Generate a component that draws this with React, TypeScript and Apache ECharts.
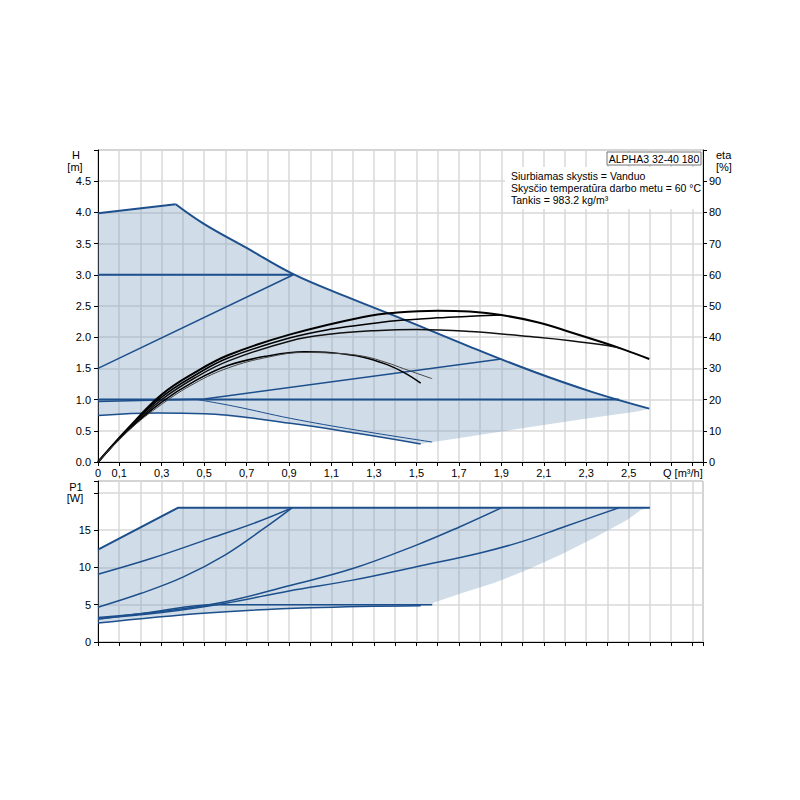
import { useEffect, useRef } from 'react';
import * as echarts from 'echarts';

type Pt = [number, number];

// Q [m3/h], H [m] - pump curves (top chart)
const maxCurve: Pt[] = [
  [0, 3.985], [0.366, 4.13], [0.497, 3.82], [0.7, 3.43], [0.92, 3.01], [1.17, 2.65],
  [1.45, 2.27], [1.75, 1.85], [2.05, 1.45], [2.33, 1.12], [2.597, 0.855],
];
const constHigh: Pt[] = [[0, 3.0], [0.92, 3.0]];
const propHigh: Pt[] = [[0, 1.5], [0.92, 3.0]];
const propLow: Pt[] = [[0, 0.97], [0.5, 1.01], [1.9, 1.65]];
const constLow: Pt[] = [[0, 1.0], [2.455, 1.0]];
const minCurve: Pt[] = [[0, 0.745], [0.28, 0.785], [0.5, 0.775], [0.906, 0.62], [1.22, 0.46], [1.52, 0.29]];
const minCurve2: Pt[] = [[0.47, 1.0], [0.646, 0.89], [0.906, 0.7], [1.22, 0.51], [1.574, 0.32]];
const headShadeLower: Pt[] = [
  [2.597, 0.855], [2.54, 0.81], [2.27, 0.68], [1.96, 0.52], [1.58, 0.32],
  [1.52, 0.29], [1.22, 0.46], [0.906, 0.62], [0.5, 0.775], [0.28, 0.785], [0, 0.745],
];

// Q [m3/h], eta [%]
const etaA: Pt[] = [
  [0, 0], [0.143, 10.9], [0.3, 21.6], [0.457, 28.7], [0.615, 34.3], [0.906, 40.9], [1.25, 46.5],
  [1.41, 47.9], [1.6, 48.5], [1.75, 48.2], [1.9, 47.1], [2.07, 44.8], [2.226, 41.6],
  [2.383, 38.2], [2.478, 36.0], [2.597, 33.0],
];
const etaB: Pt[] = [
  [0, 0], [0.143, 10.7], [0.3, 20.8], [0.457, 27.8], [0.615, 33.4], [0.906, 39.8], [1.1, 42.6],
  [1.302, 44.5], [1.44, 45.5], [1.597, 46.2], [1.755, 46.7], [1.9, 47.1],
];
const etaC: Pt[] = [
  [0, 0], [0.143, 10.5], [0.3, 20.0], [0.457, 27.0], [0.615, 32.4], [0.906, 38.8], [1.1, 41.0],
  [1.302, 42.1], [1.5, 42.5], [1.755, 41.8], [2.07, 40.0], [2.226, 38.9], [2.383, 37.5], [2.46, 36.5],
];
const etaD: Pt[] = [
  [0, 0], [0.143, 10.2], [0.3, 19.2], [0.457, 26.0], [0.615, 31.0], [0.8, 34.0], [0.97, 35.3],
  [1.1, 35.0], [1.25, 33.6], [1.362, 31.2], [1.44, 28.7], [1.52, 25.3],
];
const etaE: Pt[] = [
  [0, 0], [0.143, 10.0], [0.3, 18.5], [0.457, 25.3], [0.615, 30.2], [0.8, 33.6], [0.97, 35.1],
  [1.1, 34.9], [1.25, 33.9], [1.362, 31.8], [1.44, 29.9], [1.574, 26.7],
];

// Q [m3/h], P1 [W]
const powerMax: Pt[] = [[0, 12.4], [0.376, 18], [2.6, 18]];
const powerA: Pt[] = [[0, 9.1], [0.25, 11.2], [0.528, 13.9], [0.75, 16.1], [0.914, 18]];
const powerB: Pt[] = [[0, 4.67], [0.2, 6.5], [0.4, 8.7], [0.6, 11.7], [0.78, 15.2], [0.914, 18]];
const powerC: Pt[] = [
  [0, 3.3], [0.3, 4.1], [0.6, 5.4], [0.9, 7.55], [1.2, 9.85], [1.5, 13.0], [1.7, 15.4], [1.9, 18],
];
const powerD: Pt[] = [
  [0, 3.15], [0.3, 3.95], [0.6, 5.2], [0.9, 6.85], [1.2, 8.3], [1.5, 10.1], [1.8, 11.95],
  [2.0, 13.5], [2.2, 15.5], [2.454, 18],
];
const powerFlat: Pt[] = [[0, 3.05], [0.25, 4.0], [0.55, 5.0], [1.574, 5.0]];
const powerMin: Pt[] = [[0, 2.55], [0.513, 3.9], [1.0, 4.6], [1.52, 4.88]];
const powerShadeRight: Pt[] = [
  [2.6, 18], [2.557, 17.7], [2.494, 16.4], [2.336, 13.95], [2.179, 11.7], [2.022, 9.7],
  [1.865, 7.9], [1.708, 6.5], [1.58, 5.25], [1.574, 5.0],
];

const infoLines = [
  'Siurbiamas skystis = Vanduo',
  'Skysčio temperatūra darbo metu = 60 °C',
  'Tankis = 983.2 kg/m³',
];

const BLUE = '#1c4f8c';
const SHADE = 'rgba(120,155,190,0.35)';
const GRID = '#d8d8d8';
const FONT = 'Arial, "Liberation Sans", sans-serif';

const headShade: Pt[] = [...maxCurve, ...headShadeLower];
const powerShade: Pt[] = [...powerMax.slice(0, 2), ...powerShadeRight, ...[...powerMin].reverse()];

function shadeSeries(points: Pt[], axis: number, yAxis: number) {
  return {
    type: 'custom',
    xAxisIndex: axis,
    yAxisIndex: yAxis,
    silent: true,
    z: 1,
    data: [[0, 0]],
    renderItem: (_p: any, api: any) => ({
      type: 'polygon',
      shape: { points: points.map((p) => api.coord(p)) },
      style: { fill: SHADE, stroke: 'none' },
    }),
  };
}

function line(data: Pt[], xi: number, yi: number, color: string, width: number, smooth: number | boolean = false) {
  return {
    type: 'line',
    xAxisIndex: xi,
    yAxisIndex: yi,
    data,
    smooth,
    showSymbol: false,
    silent: true,
    z: color === BLUE ? 3 : 4,
    lineStyle: { color, width },
  };
}

const axisText = { color: '#000', fontSize: 11, fontFamily: FONT };

function qLabel(v: number) {
  const k = Math.round(v * 10);
  if (Math.abs(v * 10 - k) > 1e-6) return '';
  if (k === 0) return '0';
  if (k % 2 === 1 && k <= 25) return (k / 10).toFixed(1).replace('.', ',');
  return '';
}

function xAxis(gridIndex: number, labels: boolean) {
  return {
    type: 'value',
    gridIndex,
    min: 0,
    max: 2.85,
    interval: 0.1,
    axisLine: { show: true, lineStyle: { color: '#000', width: 1 } },
    axisTick: { show: true, length: 4, lineStyle: { color: '#000' } },
    axisLabel: { show: labels, ...axisText, margin: 5, formatter: qLabel },
    splitLine: { show: true, lineStyle: { color: GRID, width: 1.5 } },
  };
}

export default function App() {
  const chartRef = useRef<HTMLDivElement>(null);

  useEffect(() => {
    document.body.style.margin = '0';
    if (!chartRef.current) return;
    const chart = echarts.init(chartRef.current, undefined, { renderer: 'svg' });

    const text = (x: number, y: number, t: string, align = 'center', size = 11) => ({
      type: 'text',
      x,
      y,
      z: 101,
      style: { text: t, fill: '#000', fontSize: size, fontFamily: FONT, align, verticalAlign: 'middle' },
    });

    chart.setOption({
      animation: false,
      backgroundColor: '#fff',
      grid: [
        { left: 98, right: 97, top: 150, height: 312, show: true, borderColor: '#999', borderWidth: 1 },
        { left: 98, right: 97, top: 481, height: 161, show: true, borderColor: '#999', borderWidth: 1 },
      ],
      xAxis: [xAxis(0, true), xAxis(1, false)],
      yAxis: [
        {
          type: 'value',
          gridIndex: 0,
          min: 0,
          max: 5,
          interval: 0.5,
          axisLine: { show: true, lineStyle: { color: '#000' } },
          axisTick: { show: true, length: 4, lineStyle: { color: '#000' } },
          axisLabel: { ...axisText, margin: 7, formatter: (v: number) => (v >= 4.99 ? '' : v.toFixed(1)) },
          splitLine: { show: true, lineStyle: { color: GRID, width: 1.5 } },
        },
        {
          type: 'value',
          gridIndex: 0,
          position: 'right',
          min: 0,
          max: 100,
          interval: 10,
          axisLine: { show: true, lineStyle: { color: '#000' } },
          axisTick: { show: true, length: 4, lineStyle: { color: '#000' } },
          axisLabel: { ...axisText, margin: 6, formatter: (v: number) => (v >= 99 ? '' : String(v)) },
          splitLine: { show: false },
        },
        {
          type: 'value',
          gridIndex: 1,
          min: 0,
          max: 21.6,
          interval: 5,
          axisLine: { show: true, lineStyle: { color: '#000' } },
          axisTick: { show: true, length: 4, lineStyle: { color: '#000' } },
          axisLabel: { ...axisText, margin: 7, formatter: (v: number) => (v <= 15 ? String(v) : '') },
          splitLine: { show: true, lineStyle: { color: GRID, width: 1.5 } },
        },
      ],
      graphic: [
        text(76, 155, 'H'),
        text(75, 167, '[m]'),
        text(716, 155, 'eta', 'left'),
        text(716, 167, '[%]', 'left'),
        text(76, 487, 'P1'),
        text(75, 498, '[W]'),
        text(663, 473, 'Q [m³/h]', 'left'),
        {
          type: 'rect',
          z: 100,
          shape: { x: 505, y: 167, width: 197, height: 42 },
          style: { fill: '#fff', stroke: 'none' },
        },
        {
          type: 'rect',
          z: 100,
          shape: { x: 607, y: 152, width: 94, height: 13 },
          style: { fill: '#fff', stroke: '#777', lineWidth: 1 },
        },
        text(654, 158.5, 'ALPHA3 32-40 180', 'center', 10.5),
        ...infoLines.map((t, i) => text(511, 176 + i * 12.2, t, 'left', 10.5)),
      ],
      series: [
        shadeSeries(headShade, 0, 0),
        line(maxCurve.slice(0, 2), 0, 0, BLUE, 2),
        line(maxCurve.slice(1), 0, 0, BLUE, 2, 0.4),
        line(constHigh, 0, 0, BLUE, 2),
        line(propHigh, 0, 0, BLUE, 1.5),
        line(propLow, 0, 0, BLUE, 1.5),
        line(constLow, 0, 0, BLUE, 2),
        line(minCurve, 0, 0, BLUE, 1.5, 0.4),
        line(minCurve2, 0, 0, BLUE, 1, 0.4),
        line(etaA, 0, 1, '#000', 2, 0.4),
        line(etaB, 0, 1, '#000', 1.5, 0.4),
        line(etaC, 0, 1, '#111', 1.5, 0.4),
        line(etaD, 0, 1, '#000', 1.5, 0.4),
        line(etaE, 0, 1, '#444', 1, 0.4),
        shadeSeries(powerShade, 1, 2),
        line(powerMax, 1, 2, BLUE, 2),
        line(powerA, 1, 2, BLUE, 1.5, 0.4),
        line(powerB, 1, 2, BLUE, 1.5, 0.4),
        line(powerC, 1, 2, BLUE, 1.5, 0.4),
        line(powerD, 1, 2, BLUE, 1.5, 0.4),
        line(powerFlat, 1, 2, BLUE, 1.5, 0.4),
        line(powerMin, 1, 2, BLUE, 1.5, 0.4),
      ],
    });

    return () => chart.dispose();
  }, []);

  return <div ref={chartRef} style={{ width: 800, height: 800 }} />;
}
